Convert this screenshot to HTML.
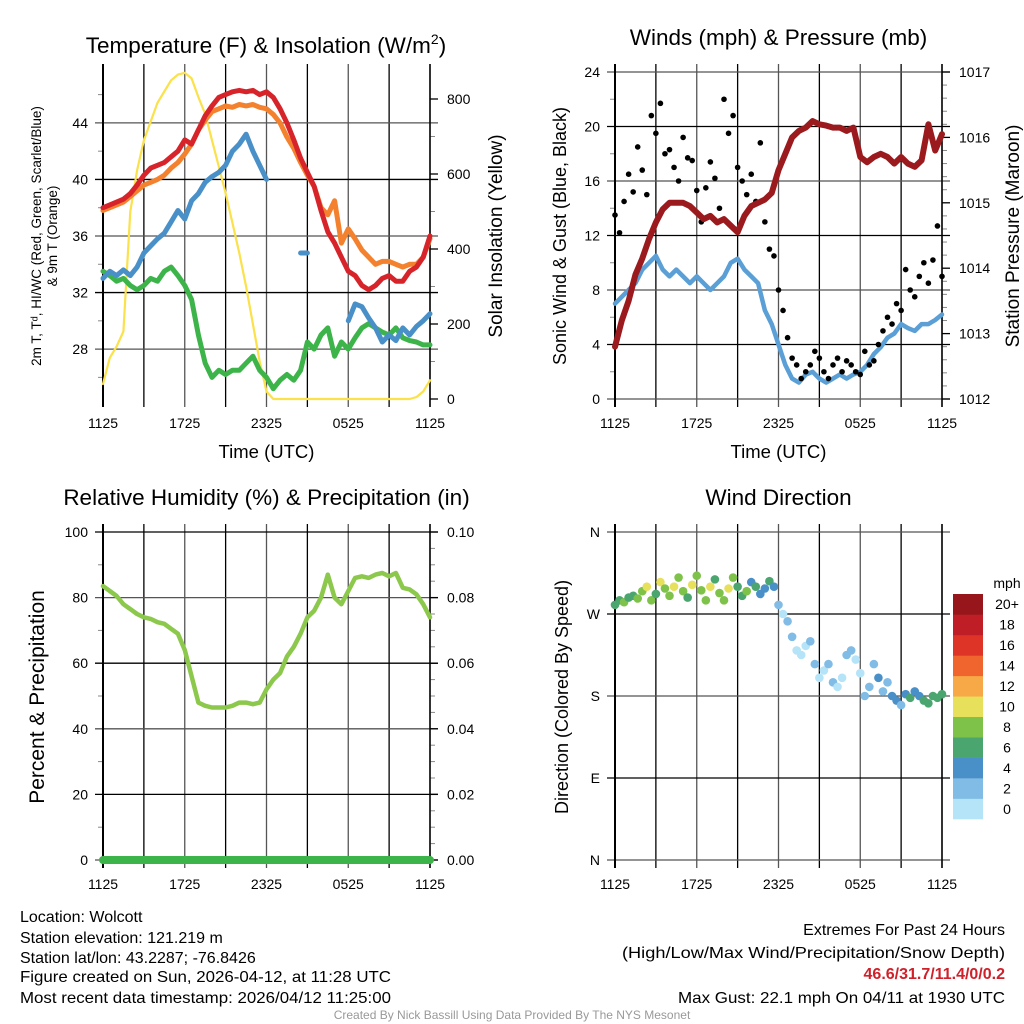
<!DOCTYPE html>
<html><head><meta charset="utf-8"><style>
body{margin:0;background:#fff}
svg{display:block;font-family:"Liberation Sans",sans-serif}
</style></head><body>
<svg id="s" width="1024" height="1024" viewBox="0 0 1024 1024">
<g id="g"></g>
<g font-size="16" fill="#000">
<text x="20" y="922">Location: Wolcott</text>
<text x="20" y="943">Station elevation: 121.219 m</text>
<text x="20" y="963">Station lat/lon: 43.2287; -76.8426</text>
<text x="20" y="982" textLength="371" lengthAdjust="spacingAndGlyphs">Figure created on Sun, 2026-04-12, at 11:28 UTC</text>
<text x="20" y="1003" textLength="371" lengthAdjust="spacingAndGlyphs">Most recent data timestamp: 2026/04/12 11:25:00</text>
<text x="1005" y="935" text-anchor="end">Extremes For Past 24 Hours</text>
<text x="1005" y="958" text-anchor="end" textLength="383" lengthAdjust="spacingAndGlyphs">(High/Low/Max Wind/Precipitation/Snow Depth)</text>
<text x="1005" y="979" text-anchor="end" fill="#d0202a" font-weight="bold">46.6/31.7/11.4/0/0.2</text>
<text x="1005" y="1003" text-anchor="end" textLength="327" lengthAdjust="spacingAndGlyphs">Max Gust: 22.1 mph On 04/11 at 1930 UTC</text>
<text x="512" y="1019" text-anchor="middle" font-size="12" fill="#999">Created By Nick Bassill Using Data Provided By The NYS Mesonet</text>
</g>
</svg>
<script>
const xTickLabels=["1125","1725","2325","0525","1125"];
const tempRed=[38,38.2,38.4,38.6,39,39.6,40.3,40.8,41,41.2,41.6,42,42.8,42.5,43.5,44.5,45.2,45.8,46,46.2,46.3,46.2,46.3,46,46.2,45.8,45,44,42.8,41.5,40.5,39.5,37.8,36.3,35.5,34.5,33.5,33.2,32.5,32.2,32.5,33,33.2,32.8,32.8,33.5,33.8,34.5,36];
const tempOrange=[37.8,38,38.2,38.4,38.8,39.2,39.6,39.8,40,40.3,40.8,41.2,41.8,42.5,43.5,44.2,44.8,45,45.2,45.1,45.3,45.2,45.3,45.1,45,44.6,44,43,42.2,41.2,40.3,39.5,38,37.5,38.5,35.5,36.5,35.8,35,34.5,34,34.2,34.2,34,33.8,34,34,34.5,35.8];
const tempBlue=[33,33.5,33.2,33.6,33.2,33.8,34.8,35.3,35.8,36.2,37,37.8,37.2,38.5,39,39.8,40.2,40.5,41,42,42.5,43.2,42,41,40,null,null,null,null,34.8,34.8,null,null,null,null,null,30,31.2,31,30.2,29.5,28.5,29,28.6,29.5,29,29.6,30,30.5];
const tempGreen=[33.5,33.2,32.8,33,32.5,32.2,32.5,33,32.8,33.5,33.8,33.2,32.5,31.5,29,27,26,26.5,26.2,26.5,26.5,27,27.5,26.5,26,25.2,25.8,26.2,25.8,26.5,28.5,28,29,29.5,27.5,28.5,28,28.8,29.5,29.8,29.5,29.2,29,29.5,28.8,28.6,28.5,28.3,28.3];
const solar=[40,110,140,180,500,610,690,740,790,820,850,865,870,855,805,760,690,620,549,470,389,300,200,100,20,0,0,0,0,0,0,0,0,0,0,0,0,0,0,0,0,0,0,0,0,0,5,20,50];
const windSpeed=[7,7.5,8,8.5,9.5,10,10.5,9.5,9,9.5,9,8.5,9,8.5,8,8.5,9,10,10.3,9.5,9,8.5,6.5,5.5,4,2.5,1.5,1.2,1.8,2,1.5,1.2,1.5,1.8,1.5,1.8,2,2.5,3.3,3.8,4.5,4.8,5.5,5.2,5,5.5,5.5,5.8,6.2];
const windGust=[13.5,12.2,14.5,16.5,15.2,18.5,16.8,15,20.8,19.5,21.7,18,18.3,17,16,19.2,17.7,17.5,15.3,13,15.5,17.4,16.2,14,22,19.5,20.8,17,16,15,16.5,14.5,18.8,13,11,10.5,8,6.5,4.5,3,2.5,1.5,2,2.5,3.5,3,2,1.5,2.5,3,2,2.8,2.5,2,1.8,3.5,2.5,2.8,4,5,6,5.5,7,6.5,9.5,8,7.5,9,10,8.5,10.2,12.7,9];
const pressure=[1012.8,1013.2,1013.5,1013.9,1014.15,1014.45,1014.7,1014.9,1015,1015,1015,1014.95,1014.85,1014.75,1014.8,1014.7,1014.75,1014.65,1014.55,1014.8,1014.95,1015,1015.05,1015.15,1015.5,1015.75,1016,1016.1,1016.15,1016.25,1016.2,1016.18,1016.15,1016.15,1016.1,1016.15,1015.7,1015.62,1015.7,1015.75,1015.7,1015.6,1015.7,1015.6,1015.55,1015.65,1016.2,1015.8,1016.05];
const rh=[83.5,82,80.5,78,76.5,75,74,73.5,72.5,72,70.5,69,64,56,48,47,46.5,46.5,46.5,47,48,48,47.5,48,52,55,57,62,65,69,74,76,80,87,80,78,82,86,86.5,86,87,87.5,86.5,87.5,83,82.5,81,78,74];
const precip=[0,0];
const windDir=[280,285,283,288,290,287,295,300,285,292,305,298,290,300,310,295,288,302,312,296,285,300,308,293,285,298,310,300,290,295,305,300,292,298,306,300,280,270,262,245,230,225,235,240,215,200,208,215,195,190,200,225,230,220,205,180,190,215,200,185,195,180,175,170,182,178,185,180,175,172,180,178,182];
const dirSpeed=[6,7,8,7,6,8,9,10,8,7,10,9,8,10,9,8,7,10,8,9,8,10,7,8,9,10,8,7,6,8,5,6,4,5,6,4,2,1,2,3,1,0,1,3,2,0,1,3,2,0,1,2,3,1,0,2,3,2,4,3,2,4,5,3,4,6,4,5,7,6,7,6,7];
const cbLabels=["0","2","4","6","8","10","12","14","16","18","20+"];
const cbColors=["#b5e3f8","#80bce6","#4a90c8","#4aa66e","#7ec24a","#e7e05b","#f7a948","#f0652e","#de3327","#bf1e26","#97161b"];

const NS="http://www.w3.org/2000/svg";
const G=document.getElementById('g');
function mk(tag,at,par){const e=document.createElementNS(NS,tag);for(const k in at)e.setAttribute(k,at[k]);(par||G).appendChild(e);return e;}
function txt(x,y,s,at,par){const e=mk('text',Object.assign({x:x,y:y},at),par);e.textContent=s;return e;}

function panel(o){
  const p=mk('g',{});
  
  
  const L=o.x0,R=o.x1,T=o.y0,B=o.y1;
  o.xs=t=>L+t/24*(R-L);
  o.ys=v=>B-(v-o.lmin)/(o.lmax-o.lmin)*(B-T);
  o.rs=v=>B-(v-o.rmin)/(o.rmax-o.rmin)*(B-T);
  for(let i=0;i<=8;i++){const x=o.xs(i*3);
    const l=mk('line',{x1:x,x2:x,y1:T-8,y2:B+8,stroke:i%2?'#000':'#555','stroke-width':1.3},p);
    }
  o.lt.forEach((v,i)=>{const y=o.ys(v);
    const l=mk('line',{x1:L-8,x2:R+8,y1:y,y2:y,stroke:i%2?'#000':'#555','stroke-width':1.3},p);
    
    const t=txt(L-15,y+5,o.ltl?o.ltl[i]:String(v),{'text-anchor':'end','font-size':14},p);
    });
  if(o.rt){o.rt.forEach((v,i)=>{const y=o.rs(v);
    mk('line',{x1:R,x2:R+8,y1:y,y2:y,stroke:'#000','stroke-width':1.3},p);
    const t=txt(R+17,y+5,o.rtl[i],{'font-size':14},p);
    });
    for(let k=0;k<o.rminor.length;k++){const y=o.rs(o.rminor[k]);mk('line',{x1:R,x2:R+5,y1:y,y2:y,stroke:'#888','stroke-width':1},p);}
  }
  if(o.lminor){o.lminor.forEach(v=>{const y=o.ys(v);mk('line',{x1:L-5,x2:L,y1:y,y2:y,stroke:'#888','stroke-width':1},p);});}
  mk('line',{x1:L,x2:L,y1:T-8,y2:B+8,stroke:'#000','stroke-width':2},p);
  mk('line',{x1:R,x2:R,y1:T-8,y2:B+8,stroke:'#000','stroke-width':1.5},p);
  xTickLabels.forEach((s,i)=>{const t=txt(o.xs(i*6),B+29,s,{'text-anchor':'middle','font-size':14},p);
    });
  const tt=txt((L+R)/2+o.tdx,o.ty,o.title,{'text-anchor':'middle','font-size':22.5},p);
  
  if(o.xtitle){const xt=txt((L+R)/2,B+59,o.xtitle,{'text-anchor':'middle','font-size':18.5},p);
    }
  return p;
}
function line(o,arr,scale,color,w,name){
  let d='',pen=false;
  arr.forEach((v,i)=>{if(v===null){pen=false;return;}const x=o.xs(i*24/(arr.length-1)),y=scale(v);d+=(pen?'L':'M')+x.toFixed(1)+' '+y.toFixed(1);pen=true;});
  const e=mk('path',{d:d,fill:'none',stroke:color,'stroke-width':w,'stroke-linejoin':'round','stroke-linecap':'round'});
  return e;
}

const p1={name:'temperature-panel',x0:103,x1:430,y0:72,y1:399,lmin:24.47,lmax:47.6,lt:[28,32,36,40,44],lminor:[26,30,34,38,42,46],
  rmin:0,rmax:872,rt:[0,200,400,600,800],rtl:["0","200","400","600","800"],rminor:[100,300,500,700],title:'',tdx:0,ty:53,xtitle:'Time (UTC)'};
panel(p1);
{const t=txt(266,53,'Temperature (F) & Insolation (W/m',{'text-anchor':'middle','font-size':22.5});
 
 const s=mk('tspan',{dy:-9,'font-size':14},t);s.textContent='2';const s2=mk('tspan',{dy:9},t);s2.textContent=')';}
line(p1,solar,p1.rs,'#fbe14a',2.2,'solar-insolation-line');
line(p1,tempGreen,p1.ys,'#3db44a',5,'dewpoint-line');
line(p1,tempBlue,p1.ys,'#4a90c8',5,'wind-chill-line');
line(p1,tempOrange,p1.ys,'#f4812e',5,'temp-9m-line');
line(p1,tempRed,p1.ys,'#d7242a',5,'temp-2m-line');
{const a=mk('text',{transform:'translate(41,236) rotate(-90)','text-anchor':'middle','font-size':13.5});a.textContent='2m T, T\u1d48, HI/WC (Red, Green, Scarlet/Blue)';
 
 const b=mk('text',{transform:'translate(57,236) rotate(-90)','text-anchor':'middle','font-size':13.5});b.textContent='& 9m T (Orange)';
 
 const c=mk('text',{transform:'translate(502,236) rotate(-90)','text-anchor':'middle','font-size':19});c.textContent='Solar Insolation (Yellow)';
 }

const p2={name:'winds-panel',x0:615,x1:942,y0:72,y1:399,lmin:0,lmax:24,lt:[0,4,8,12,16,20,24],lminor:[2,6,10,14,18,22],
  rmin:1012,rmax:1017,rt:[1012,1013,1014,1015,1016,1017],rtl:["1012","1013","1014","1015","1016","1017"],rminor:[1012.2,1012.4,1012.6,1012.8,1013.2,1013.4,1013.6,1013.8,1014.2,1014.4,1014.6,1014.8,1015.2,1015.4,1015.6,1015.8,1016.2,1016.4,1016.6,1016.8],
  title:'Winds (mph) & Pressure (mb)',tdx:0,ty:45,xtitle:'Time (UTC)'};
panel(p2);
line(p2,windSpeed,p2.ys,'#5a9fd6',4.5,'sonic-wind-line');
windGust.forEach((v,i)=>{const c=mk('circle',{cx:p2.xs(i*24/(windGust.length-1)),cy:p2.ys(v),r:2.8,fill:'#000'});
  
  });
line(p2,pressure,p2.rs,'#9b1a1d',6,'pressure-line');
{const a=mk('text',{transform:'translate(566,236) rotate(-90)','text-anchor':'middle','font-size':18});a.textContent='Sonic Wind & Gust (Blue, Black)';
 
 const c=mk('text',{transform:'translate(1019,236) rotate(-90)','text-anchor':'middle','font-size':19});c.textContent='Station Pressure (Maroon)';
 }

const p3={name:'humidity-panel',x0:103,x1:430,y0:532,y1:860,lmin:0,lmax:100,lt:[0,20,40,60,80,100],lminor:[10,30,50,70,90],
  rmin:0,rmax:0.1,rt:[0,0.02,0.04,0.06,0.08,0.1],rtl:["0.00","0.02","0.04","0.06","0.08","0.10"],rminor:[0.005,0.01,0.015,0.025,0.03,0.035,0.045,0.05,0.055,0.065,0.07,0.075,0.085,0.09,0.095],
  title:'Relative Humidity (%) & Precipitation (in)',tdx:0,ty:505};
panel(p3);
line(p3,rh,p3.ys,'#8cc84b',4.5,'humidity-line');
line(p3,precip,p3.rs,'#3db44a',8,'precipitation-line');
{const a=mk('text',{transform:'translate(44,697) rotate(-90)','text-anchor':'middle','font-size':21});a.textContent='Percent & Precipitation';
 }

const p4={name:'wind-direction-panel',x0:615,x1:942,y0:532,y1:860,lmin:0,lmax:360,lt:[0,90,180,270,360],ltl:["N","E","S","W","N"],
  title:'Wind Direction',tdx:0,ty:505};
panel(p4);
windDir.forEach((v,i)=>{const b=Math.min(10,Math.floor(dirSpeed[i]/2));
  const c=mk('circle',{cx:p4.xs(i*24/(windDir.length-1)),cy:p4.ys(v),r:4.3,fill:cbColors[b]});
  
  });
{const a=mk('text',{transform:'translate(568,697) rotate(-90)','text-anchor':'middle','font-size':18});a.textContent='Direction (Colored By Speed)';
 }
{const cb=mk('g',{});
 const h=(819-594)/cbColors.length;
 cbColors.forEach((c,i)=>{const y=819-(i+1)*h;const r=mk('rect',{x:953,y:y,width:30,height:h+0.3,fill:c},cb);
   
   const t=txt(1007,y+h/2+5,cbLabels[i],{'text-anchor':'middle','font-size':14},cb);
   });
 const m=txt(1007,588,'mph',{'text-anchor':'middle','font-size':14},cb);}
</script>
</body></html>
